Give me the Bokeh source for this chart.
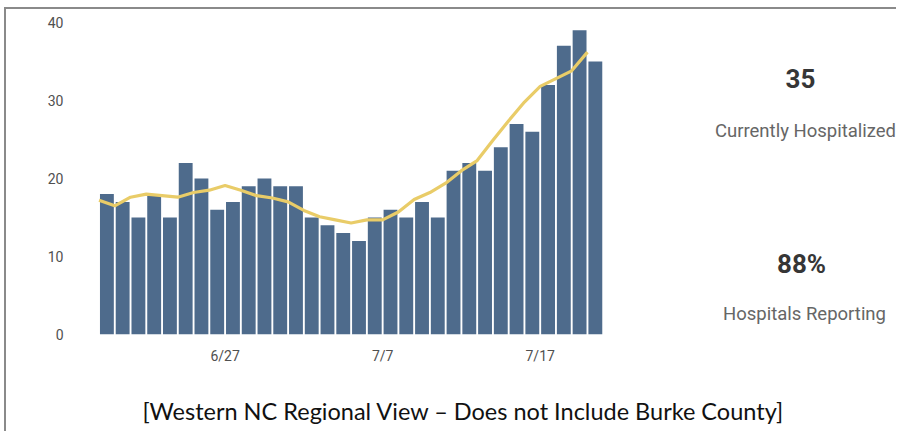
from datetime import datetime, timedelta
from bokeh.plotting import figure
from bokeh.layouts import column, row
from bokeh.models import Range1d, FixedTicker, DatetimeTickFormatter, ColumnDataSource
from bokeh.core.properties import value
from bokeh.embed import file_html
from bokeh.resources import INLINE

start_day = datetime(2020, 6, 19)
hospitalized = [18, 17, 15, 18, 15, 22, 20, 16, 17, 19, 20, 19, 19, 15, 14, 13,
                12, 15, 16, 15, 17, 15, 21, 22, 21, 24, 27, 26, 32, 37, 39, 35]
moving_avg = [17.2, 16.5, 17.6, 18.0, 17.8, 17.6, 18.2, 18.5, 19.1, 18.5, 17.8, 17.5,
              17.0, 15.9, 15.1, 14.7, 14.3, 14.7, 14.7, 15.7, 17.3, 18.2, 19.4, 21.0,
              22.3, 24.9, 27.4, 29.8, 31.8, 32.8, 33.8, 36.2]
dates = [start_day + timedelta(days=i) for i in range(len(hospitalized))]
tick_dates = [datetime(2020, 6, 27), datetime(2020, 7, 7), datetime(2020, 7, 17)]
y_ticks = [0, 10, 20, 30, 40]
current_value = "35"
current_label = "Currently Hospitalized"
reporting_value = "88%"
reporting_label = "Hospitals Reporting"
title_text = "[Western NC Regional View \u2013 Does not Include Burke County]"

day_ms = 24 * 3600 * 1000
bar_src = ColumnDataSource(dict(x=[d + timedelta(hours=12) for d in dates], top=hospitalized))
line_src = ColumnDataSource(dict(x=dates, y=moving_avg))

# ---- chart ----
p = figure(width=620, height=360, output_backend="svg", toolbar_location=None,
           x_axis_type="datetime",
           x_range=Range1d(start=dates[0] - timedelta(hours=46.5),
                           end=dates[-1] + timedelta(hours=29)),
           y_range=Range1d(start=0, end=41.15),
           min_border_left=62, min_border_right=20, min_border_top=4, min_border_bottom=35)
p.outline_line_color = None
p.xgrid.grid_line_color = None
p.ygrid.grid_line_color = None

p.vbar(x="x", top="top", width=0.88 * day_ms, bottom=0, source=bar_src,
       fill_color="#4E6B8C", line_color=None)
p.line(x="x", y="y", source=line_src, line_color="#E9CC68", line_width=3.2)

for ax in (p.xaxis[0], p.yaxis[0]):
    ax.axis_line_color = None
    ax.major_tick_line_color = None
    ax.minor_tick_line_color = None
    ax.major_tick_out = 0
    ax.major_tick_in = 0
    ax.minor_tick_out = 0
    ax.major_label_text_color = "#505050"
    ax.major_label_text_font = "Roboto"
    ax.major_label_text_font_size = "14px"

p.yaxis.ticker = FixedTicker(ticks=y_ticks)
p.yaxis.major_label_standoff = 5
p.xaxis.ticker = FixedTicker(ticks=[d.timestamp() * 1000 for d in tick_dates])
p.xaxis.formatter = DatetimeTickFormatter(days="%-m/%-d", months="%-m/%-d")
p.xaxis.major_label_standoff = 13

# ---- KPI cards on the right (data units = canvas pixels of the aligned frame) ----
r = figure(width=270, height=360, output_backend="svg", toolbar_location=None,
           x_range=Range1d(620, 890), y_range=Range1d(325, 4),
           x_axis_location=None, y_axis_location=None, min_border=0)
r.outline_line_color = None
r.xgrid.grid_line_color = None
r.ygrid.grid_line_color = None
kpi_src = ColumnDataSource(dict(x=[794, 795], y=[69, 254], t=[current_value, reporting_value]))
cap_src = ColumnDataSource(dict(x=[799, 798], y=[121, 304], t=[current_label, reporting_label]))
r.text(x="x", y="y", text="t", source=kpi_src, text_align="center", text_baseline="middle",
       text_font=value("Roboto"), text_font_size="26px", text_font_style="bold",
       text_color="#363636")
r.text(x="x", y="y", text="t", source=cap_src, text_align="center", text_baseline="middle",
       text_font=value("Roboto"), text_font_size="18.5px", text_color="#666666")

# ---- caption below ----
b = figure(width=890, height=62, output_backend="svg", toolbar_location=None,
           x_range=Range1d(0, 890), y_range=Range1d(422, 360),
           x_axis_location=None, y_axis_location=None, min_border=0)
b.outline_line_color = None
b.xgrid.grid_line_color = None
b.ygrid.grid_line_color = None
b.text(x=[457], y=[401], text=[title_text], text_align="center", text_baseline="middle",
       text_font=value("Lato"), text_font_size="23.5px", text_color="#111111")

layout = column(row(p, r), b)
layout.styles = {"border-top": "2px solid #8a8a8a", "border-left": "2px solid #8a8a8a",
                 "margin-left": "4px", "margin-top": "7px"}

open("out.html", "w").write(file_html(layout, INLINE))
